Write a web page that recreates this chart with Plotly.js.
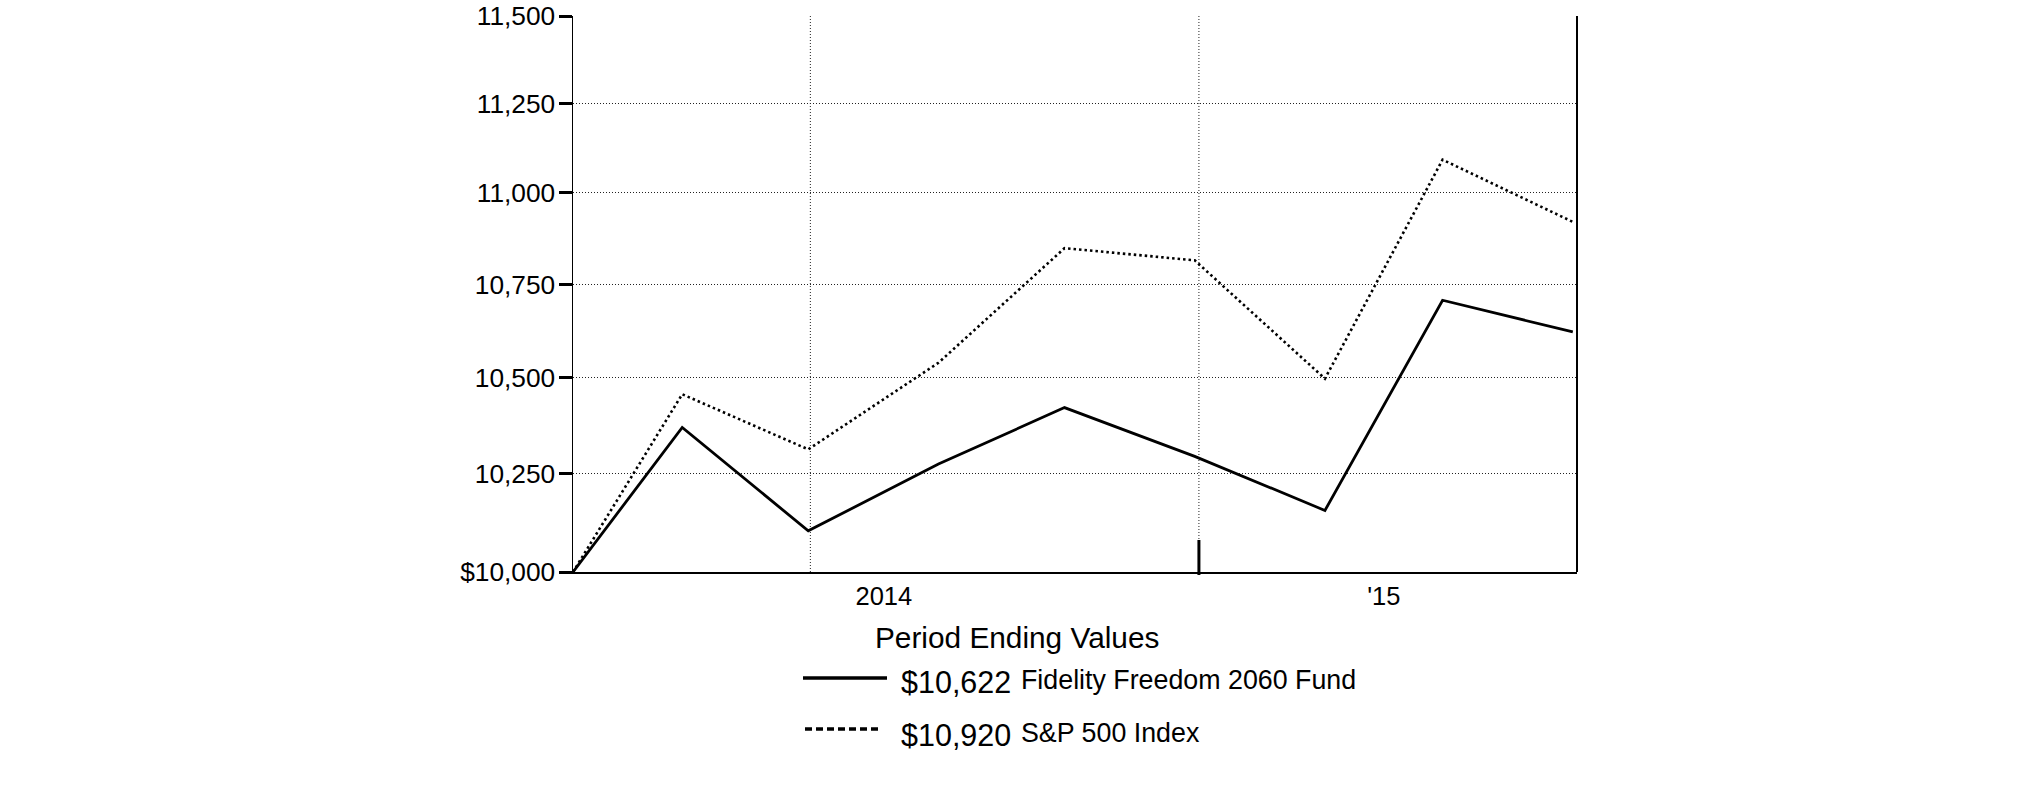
<!DOCTYPE html>
<html>
<head>
<meta charset="utf-8">
<script src="https://cdn.plot.ly/plotly-3.0.1.min.js"></script>
<style>
html,body{margin:0;padding:0;background:#fff;}
#chart{width:2026px;height:785px;}
</style>
</head>
<body>
<div id="chart"></div>
<script>
// ---- data ----
var dates = ['2014-08-05','2014-08-31','2014-09-30','2014-10-31','2014-11-30','2014-12-31','2015-01-31','2015-02-28','2015-03-31'];
var fundValues = [10000, 10370, 10104, 10275, 10422, 10295, 10156, 10707, 10622];
var indexValues = [10000, 10457, 10313, 10540, 10848, 10815, 10498, 11092, 10920];
var seriesNames = ['Fidelity Freedom 2060 Fund', 'S&P 500 Index'];
var endingValues = ['$10,622', '$10,920'];
var legendTitle = 'Period Ending Values';
var yTickVals = [10000, 10250, 10500, 10750, 11000, 11250, 11500];
var yTickText = ['$10,000', '10,250', '10,500', '10,750', '11,000', '11,250', '11,500'];
var xLabelDates = ['2014-10-18', '2015-02-14'];
var xLabelText = ['2014', "'15"];
var xGridDates = ['2014-09-30 12:00', '2015-01-01'];
var yearBoundary = '2015-01-01';

// ---- layout helpers (pixel -> paper) ----
var W = 2026, H = 785;
var M = {l: 573, r: 449, t: 16, b: 213};
var PW = W - M.l - M.r, PH = H - M.t - M.b;
function px(x){ return (x - M.l) / PW; }
function py(y){ return (H - M.b - y) / PH; }

var FONT = 'Arial, "Liberation Sans", sans-serif';

var traces = [
  {x: dates, y: fundValues, type: 'scatter', mode: 'lines', name: seriesNames[0],
   line: {color: '#000', width: 2.8}, showlegend: false},
  {x: dates, y: indexValues, type: 'scatter', mode: 'lines', name: seriesNames[1],
   line: {color: '#000', width: 2.6, dash: '2.5px,3px'}, showlegend: false}
];

var shapes = [];
xGridDates.forEach(function(d){
  shapes.push({type: 'line', xref: 'x', yref: 'paper', x0: d, x1: d, y0: 0, y1: 1,
    line: {color: '#222', width: 1, dash: '1px,2px'}, layer: 'below'});
});
// year boundary tick
shapes.push({type: 'line', xref: 'x', yref: 'paper', x0: yearBoundary, x1: yearBoundary,
  y0: py(575), y1: py(540), line: {color: '#000', width: 3}});
// right border
shapes.push({type: 'line', xref: 'paper', yref: 'paper', x0: 1, x1: 1, y0: 0, y1: 1,
  line: {color: '#000', width: 2}});
// legend samples
shapes.push({type: 'line', xref: 'paper', yref: 'paper', x0: px(803), x1: px(887), y0: py(678), y1: py(678),
  line: {color: '#000', width: 3.5}});
shapes.push({type: 'line', xref: 'paper', yref: 'paper', x0: px(805), x1: px(882), y0: py(729), y1: py(729),
  line: {color: '#000', width: 3.5, dash: '7px,4px'}});

var annotations = [
  {text: legendTitle, xref: 'paper', yref: 'paper', x: px(873), y: py(637), xanchor: 'left', yanchor: 'middle',
   showarrow: false, font: {family: FONT, size: 29.8, color: '#000'}},
  {text: endingValues[0], xref: 'paper', yref: 'paper', x: px(899), y: py(682), xanchor: 'left', yanchor: 'middle',
   showarrow: false, font: {family: FONT, size: 30.5, color: '#000'}},
  {text: seriesNames[0], xref: 'paper', yref: 'paper', x: px(1019), y: py(680), xanchor: 'left', yanchor: 'middle',
   showarrow: false, font: {family: FONT, size: 26.8, color: '#000'}},
  {text: endingValues[1], xref: 'paper', yref: 'paper', x: px(899), y: py(735), xanchor: 'left', yanchor: 'middle',
   showarrow: false, font: {family: FONT, size: 30.5, color: '#000'}},
  {text: seriesNames[1], xref: 'paper', yref: 'paper', x: px(1019), y: py(733), xanchor: 'left', yanchor: 'middle',
   showarrow: false, font: {family: FONT, size: 26.8, color: '#000'}}
];

var layout = {
  width: W, height: H,
  margin: M,
  paper_bgcolor: '#fff', plot_bgcolor: '#fff',
  showlegend: false,
  font: {family: FONT, color: '#000'},
  xaxis: {
    type: 'date',
    range: ['2014-08-05', '2015-04-01'],
    tickmode: 'array', tickvals: xLabelDates, ticktext: xLabelText,
    ticks: '', showgrid: false, zeroline: false,
    showline: true, linecolor: '#000', linewidth: 2,
    tickfont: {family: FONT, size: 25.5, color: '#000'}
  },
  yaxis: {
    type: 'log',
    range: [Math.log10(10000), Math.log10(11500)],
    tickmode: 'array', tickvals: yTickVals, ticktext: yTickText,
    ticks: 'outside', ticklen: 13, tickwidth: 3, tickcolor: '#000',
    ticklabelstandoff: -2,
    showline: true, linecolor: '#000', linewidth: 1.5,
    showgrid: true, gridcolor: '#222', gridwidth: 1, griddash: '1px,2px',
    zeroline: false,
    tickfont: {family: FONT, size: 26.3, color: '#000'}
  },
  shapes: shapes,
  annotations: annotations
};

Plotly.newPlot('chart', traces, layout, {staticPlot: true, displayModeBar: false});
</script>
</body>
</html>
